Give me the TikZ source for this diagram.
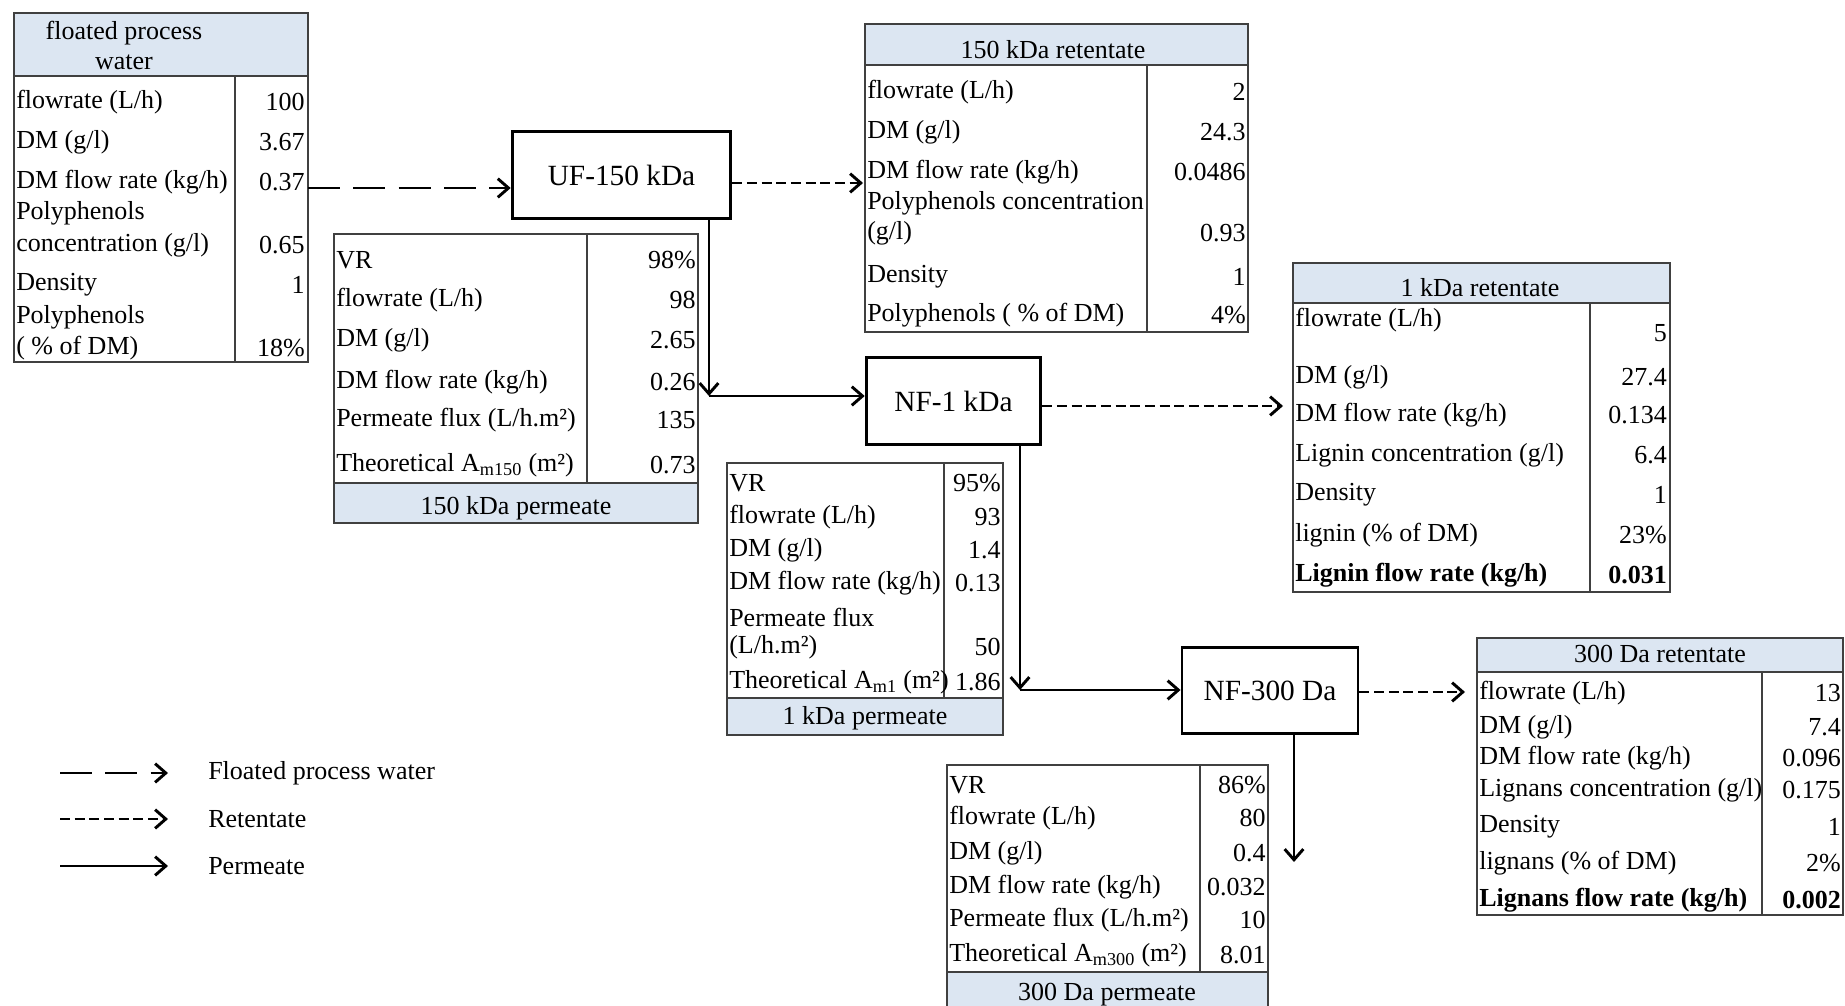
\documentclass[tikz,border=0pt]{standalone}
\usepackage{fontspec}
\setmainfont{Liberation Serif}
\usetikzlibrary{arrows.meta,positioning}

\definecolor{hdblue}{RGB}{220,230,242}
\newcommand\tabfont{\fontsize{19.5}{22}\selectfont}
\newcommand\unitfont{\fontsize{22}{26}\selectfont}

\tikzset{
	unit/.style={draw, line width=2.2pt, minimum height=65pt, font=\unitfont},
	lab/.style={anchor=west, inner sep=0pt, font=\tabfont},
	val/.style={anchor=east, inner sep=0pt, font=\tabfont},
	head/.style={inner sep=0pt, font=\tabfont},
	grid/.style={draw=black!75, line width=1.2pt},
	feedarr/.style={line width=2.2pt, dash pattern=on 24pt off 10pt, -{Straight Barb[length=8pt,width=14pt]}},
	retarr/.style={line width=2.2pt, dash pattern=on 7.5pt off 3.5pt, -{Straight Barb[length=8pt,width=14pt]}},
	permarr/.style={line width=2.2pt, -{Straight Barb[length=8pt,width=14pt]}}
}

\begin{document}
\begin{tikzpicture}[x=0.75pt, y=-0.75pt]
	\useasboundingbox (0,0) rectangle (1845,1006);

	% membrane units
	\node[unit, minimum width=164pt] (uf) at (621.5,175) {UF-150 kDa};
	\node[unit, minimum width=131pt] (nf1) at (953.5,401) {NF-1 kDa};
	\node[unit, minimum width=132pt] (nf3) at (1270,690.5) {NF-300 Da};

	% floated process water
	\fill[hdblue] (14,13) rectangle (308,76);
	\draw[grid] (14,13) rectangle (308,362);
	\draw[grid] (14,76) -- (308,76);
	\draw[grid] (235,76) -- (235,362);
	\node[head] (pwh1) at (124,33) {floated process};
	\node[head] (pwh2) at (124,62) {water};
	\node[lab] (pw1) at (16,102) {flowrate (L/h)};
	\node[val] (pw1v) at (305,102) {100};
	\node[lab] (pw2) at (16,142) {DM (g/l)};
	\node[val] (pw2v) at (305,142) {3.67};
	\node[lab] (pw3) at (16,182) {DM flow rate (kg/h)};
	\node[val] (pw3v) at (305,182) {0.37};
	\node[lab] (pw4) at (16,213) {Polyphenols};
	\node[lab] (pw5) at (16,245) {concentration (g/l)};
	\node[val] (pw5v) at (305,245) {0.65};
	\node[lab] (pw6) at (16,285) {Density};
	\node[val] (pw6v) at (305,285) {1};
	\node[lab] (pw7) at (16,317) {Polyphenols};
	\node[lab] (pw8) at (16,348) {( \% of DM)};
	\node[val] (pw8v) at (305,348) {18\%};

	% 150 kDa permeate
	\fill[hdblue] (334,483) rectangle (698,523);
	\draw[grid] (334,234) rectangle (698,523);
	\draw[grid] (334,483) -- (698,483);
	\draw[grid] (587,234) -- (587,483);
	\node[head] (p150h) at (516,508) {150 kDa permeate};
	\node[lab] (p150a) at (336,260) {VR};
	\node[val] (p150av) at (696,260) {98\%};
	\node[lab] (p150b) at (336,300) {flowrate (L/h)};
	\node[val] (p150bv) at (696,300) {98};
	\node[lab] (p150c) at (336,340) {DM (g/l)};
	\node[val] (p150cv) at (696,340) {2.65};
	\node[lab] (p150d) at (336,382) {DM flow rate (kg/h)};
	\node[val] (p150dv) at (696,382) {0.26};
	\node[lab] (p150e) at (336,420) {Permeate flux (L/h.m²)};
	\node[val] (p150ev) at (696,420) {135};
	\node[lab] (p150f) at (336,465) {Theoretical A\textsubscript{m150} (m²)};
	\node[val] (p150fv) at (696,465) {0.73};

	% 150 kDa retentate
	\fill[hdblue] (865,24) rectangle (1248,65);
	\draw[grid] (865,24) rectangle (1248,332);
	\draw[grid] (865,65) -- (1248,65);
	\draw[grid] (1147,65) -- (1147,332);
	\node[head] (r150h) at (1053,50) {150 kDa retentate};
	\node[lab] (r150a) at (867,92) {flowrate (L/h)};
	\node[val] (r150av) at (1246,92) {2};
	\node[lab] (r150b) at (867,132) {DM (g/l)};
	\node[val] (r150bv) at (1246,132) {24.3};
	\node[lab] (r150c) at (867,172) {DM flow rate (kg/h)};
	\node[val] (r150cv) at (1246,172) {0.0486};
	\node[lab] (r150d) at (867,203) {Polyphenols concentration};
	\node[lab] (r150e) at (867,233) {(g/l)};
	\node[val] (r150ev) at (1246,233) {0.93};
	\node[lab] (r150f) at (867,277) {Density};
	\node[val] (r150fv) at (1246,277) {1};
	\node[lab] (r150g) at (867,315) {Polyphenols ( \% of DM)};
	\node[val] (r150gv) at (1246,315) {4\%};

	% 1 kDa retentate
	\fill[hdblue] (1293,263) rectangle (1670,303);
	\draw[grid] (1293,263) rectangle (1670,592);
	\draw[grid] (1293,303) -- (1670,303);
	\draw[grid] (1590,303) -- (1590,592);
	\node[head] (r1h) at (1480,288) {1 kDa retentate};
	\node[lab] (r1a) at (1295,320) {flowrate (L/h)};
	\node[val] (r1av) at (1667,333) {5};
	\node[lab] (r1b) at (1295,377) {DM (g/l)};
	\node[val] (r1bv) at (1667,377) {27.4};
	\node[lab] (r1c) at (1295,415) {DM flow rate (kg/h)};
	\node[val] (r1cv) at (1667,415) {0.134};
	\node[lab] (r1d) at (1295,455) {Lignin concentration (g/l)};
	\node[val] (r1dv) at (1667,455) {6.4};
	\node[lab] (r1e) at (1295,495) {Density};
	\node[val] (r1ev) at (1667,495) {1};
	\node[lab] (r1f) at (1295,535) {lignin (\% of DM)};
	\node[val] (r1fv) at (1667,535) {23\%};
	\node[lab, font=\tabfont\bfseries] (r1g) at (1295,575) {Lignin flow rate (kg/h)};
	\node[val, font=\tabfont\bfseries] (r1gv) at (1667,575) {0.031};

	% 1 kDa permeate
	\fill[hdblue] (727,698) rectangle (1003,735);
	\draw[grid] (727,463) rectangle (1003,735);
	\draw[grid] (727,698) -- (1003,698);
	\draw[grid] (944,463) -- (944,698);
	\node[head] (p1h) at (865,718) {1 kDa permeate};
	\node[lab] (p1a) at (729,483) {VR};
	\node[val] (p1av) at (1001,483) {95\%};
	\node[lab] (p1b) at (729,517) {flowrate (L/h)};
	\node[val] (p1bv) at (1001,517) {93};
	\node[lab] (p1c) at (729,550) {DM (g/l)};
	\node[val] (p1cv) at (1001,550) {1.4};
	\node[lab] (p1d) at (729,583) {DM flow rate (kg/h)};
	\node[val] (p1dv) at (1001,583) {0.13};
	\node[lab] (p1e) at (729,617) {Permeate flux};
	\node[lab] (p1f) at (729,647) {(L/h.m²)};
	\node[val] (p1fv) at (1001,647) {50};
	\node[lab] (p1g) at (729,682) {Theoretical A\textsubscript{m1} (m²)};
	\node[val] (p1gv) at (1001,682) {1.86};

	% 300 Da retentate
	\fill[hdblue] (1477,638) rectangle (1843,672);
	\draw[grid] (1477,638) rectangle (1843,915);
	\draw[grid] (1477,672) -- (1843,672);
	\draw[grid] (1762,672) -- (1762,915);
	\node[head] (r3h) at (1660,654) {300 Da retentate};
	\node[lab] (r3a) at (1479,693) {flowrate (L/h)};
	\node[val] (r3av) at (1841,693) {13};
	\node[lab] (r3b) at (1479,727) {DM (g/l)};
	\node[val] (r3bv) at (1841,727) {7.4};
	\node[lab] (r3c) at (1479,758) {DM flow rate (kg/h)};
	\node[val] (r3cv) at (1841,758) {0.096};
	\node[lab] (r3d) at (1479,790) {Lignans concentration (g/l)};
	\node[val] (r3dv) at (1841,790) {0.175};
	\node[lab] (r3e) at (1479,827) {Density};
	\node[val] (r3ev) at (1841,827) {1};
	\node[lab] (r3f) at (1479,863) {lignans (\% of DM)};
	\node[val] (r3fv) at (1841,863) {2\%};
	\node[lab, font=\tabfont\bfseries] (r3g) at (1479,900) {Lignans flow rate (kg/h)};
	\node[val, font=\tabfont\bfseries] (r3gv) at (1841,900) {0.002};

	% 300 Da permeate
	\fill[hdblue] (947,972) rectangle (1268,1012);
	\draw[grid] (947,765) rectangle (1268,1012);
	\draw[grid] (947,972) -- (1268,972);
	\draw[grid] (1200,765) -- (1200,972);
	\node[head] (p3h) at (1107,995) {300 Da permeate};
	\node[lab] (p3a) at (949,785) {VR};
	\node[val] (p3av) at (1266,785) {86\%};
	\node[lab] (p3b) at (949,818) {flowrate (L/h)};
	\node[val] (p3bv) at (1266,818) {80};
	\node[lab] (p3c) at (949,853) {DM (g/l)};
	\node[val] (p3cv) at (1266,853) {0.4};
	\node[lab] (p3d) at (949,887) {DM flow rate (kg/h)};
	\node[val] (p3dv) at (1266,887) {0.032};
	\node[lab] (p3e) at (949,920) {Permeate flux (L/h.m²)};
	\node[val] (p3ev) at (1266,920) {10};
	\node[lab] (p3f) at (949,955) {Theoretical A\textsubscript{m300} (m²)};
	\node[val] (p3fv) at (1266,955) {8.01};

	% connector ends
	\coordinate (pwr) at (308,188);
	\coordinate (r150in) at (863,183);
	\coordinate (ufturn) at (709,396);
	\coordinate (r1in) at (1283,406);
	\coordinate (nf1turn) at (1020,690);
	\coordinate (r3in) at (1465,692);
	\coordinate (p3out) at (1294,862);

	% flows
	\draw[feedarr] (pwr) -- (uf.west |- pwr);
	\draw[retarr] (uf.east |- r150in) -- (r150in);
	\draw[permarr] (uf.south -| ufturn) -- (ufturn);
	\draw[permarr] (ufturn) -- (nf1.west |- ufturn);
	\draw[retarr] (nf1.east |- r1in) -- (r1in);
	\draw[permarr] (nf1.south -| nf1turn) -- (nf1turn);
	\draw[permarr] (nf1turn) -- (nf3.west |- nf1turn);
	\draw[retarr] (nf3.east |- r3in) -- (r3in);
	\draw[permarr] (nf3.south -| p3out) -- (p3out);

	% legend
	\coordinate (lg1a) at (60,773);
	\coordinate (lg1b) at (168,773);
	\coordinate (lg2a) at (60,819);
	\coordinate (lg2b) at (168,819);
	\coordinate (lg3a) at (60,866);
	\coordinate (lg3b) at (168,866);
	\draw[feedarr] (lg1a) -- (lg1b);
	\draw[retarr] (lg2a) -- (lg2b);
	\draw[permarr] (lg3a) -- (lg3b);
	\node[lab] (lg1) at (208,773) {Floated process water};
	\node[lab] (lg2) at (208,819) {Retentate};
	\node[lab] (lg3) at (208,866) {Permeate};
\end{tikzpicture}
\end{document}
